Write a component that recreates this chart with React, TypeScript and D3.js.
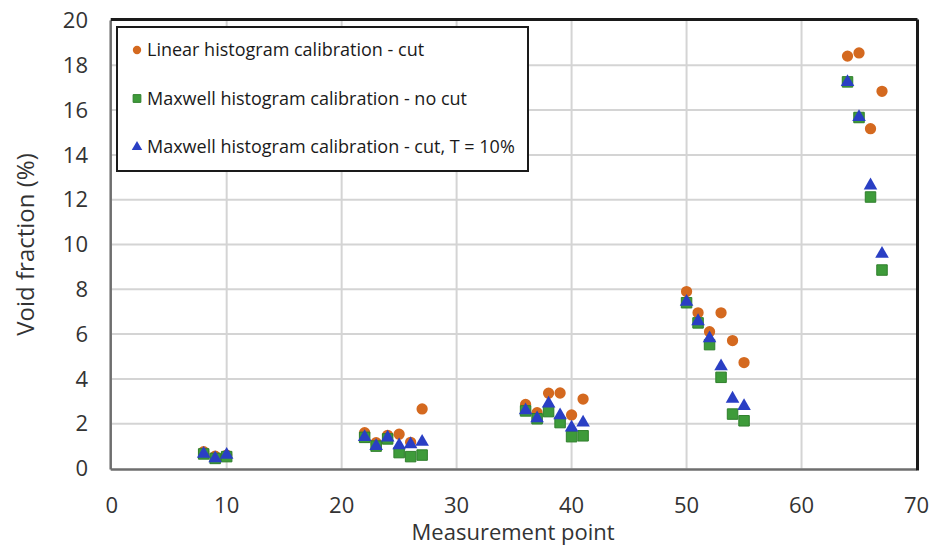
import React from "react";
import * as d3 from "d3";

// Measurement points and void fractions (%) per calibration method
const points = [8, 9, 10, 22, 23, 24, 25, 26, 27, 36, 37, 38, 39, 40, 41, 50, 51, 52, 53, 54, 55, 64, 65, 66, 67];
const linearCut = [0.75, 0.55, 0.6, 1.6, 1.15, 1.48, 1.53, 1.17, 2.66, 2.86, 2.49, 3.36, 3.37, 2.39, 3.1, 7.9, 6.95, 6.11, 6.95, 5.71, 4.73, 18.41, 18.55, 15.17, 16.84];
const maxwellNoCut = [0.65, 0.45, 0.53, 1.39, 1.0, 1.32, 0.71, 0.53, 0.6, 2.57, 2.22, 2.54, 2.05, 1.42, 1.46, 7.4, 6.5, 5.53, 4.07, 2.43, 2.13, 17.26, 15.67, 12.12, 8.86];
const maxwellCut10 = [0.7, 0.5, 0.65, 1.45, 1.05, 1.42, 1.08, 1.12, 1.23, 2.64, 2.28, 2.94, 2.42, 1.87, 2.09, 7.48, 6.62, 5.86, 4.61, 3.16, 2.83, 17.3, 15.73, 12.68, 9.63];

const xTicks = [0, 10, 20, 30, 40, 50, 60, 70];
const yTicks = [0, 2, 4, 6, 8, 10, 12, 14, 16, 18, 20];

const seriesNames = [
  "Linear histogram calibration - cut",
  "Maxwell histogram calibration - no cut",
  "Maxwell histogram calibration - cut, T = 10%",
];

const W = 930;
const H = 547;
const left = 111.7;
const right = 916.5;
const top = 20.5;
const bottom = 468.5;

const ORANGE = "#d4691f";
const GREEN = "#3e9b3a";
const GREEN_EDGE = "#2f7f2c";
const BLUE = "#2a3fc4";
const FONT = "'Open Sans', 'Noto Sans', sans-serif";

export default function App() {
  const x = d3.scaleLinear().domain([0, 70]).range([left, right]);
  const y = d3.scaleLinear().domain([0, 20]).range([bottom, top]);

  const circle = d3.symbol().type(d3.symbolCircle).size(100)()!;
  const square = d3.symbol().type(d3.symbolSquare).size(110)()!;
  const triangle = d3.symbol().type(d3.symbolTriangle).size(80)()!;

  const circleL = d3.symbol().type(d3.symbolCircle).size(55)()!;
  const squareL = d3.symbol().type(d3.symbolSquare).size(60)()!;
  const triangleL = d3.symbol().type(d3.symbolTriangle).size(48)()!;

  const legendRows = [
    { name: seriesNames[0], path: circleL, fill: ORANGE, stroke: "none" },
    { name: seriesNames[1], path: squareL, fill: GREEN, stroke: GREEN_EDGE },
    { name: seriesNames[2], path: triangleL, fill: BLUE, stroke: "none" },
  ];

  return (
    <svg width={W} height={H} style={{ position: "absolute", left: 0, top: 0, background: "#fff" }}>
      <rect width={W} height={H} fill="#fff" />
      {/* gridlines */}
      {yTicks.slice(1, -1).map((t) => (
        <line key={"gy" + t} x1={left} x2={right} y1={y(t)} y2={y(t)} stroke="#d4d4d4" strokeWidth={2} />
      ))}
      {xTicks.slice(1, -1).map((t) => (
        <line key={"gx" + t} x1={x(t)} x2={x(t)} y1={top} y2={bottom} stroke="#d4d4d4" strokeWidth={2} />
      ))}

      {/* plot frame */}
      <line x1={left - 1} x2={left - 1} y1={top} y2={bottom + 1} stroke="#6e6e6e" strokeWidth={2.5} />
      <line x1={left - 1} x2={right} y1={bottom + 1} y2={bottom + 1} stroke="#6e6e6e" strokeWidth={2.5} />
      <line x1={left - 1} x2={right + 1} y1={top - 1} y2={top - 1} stroke="#1a1a1a" strokeWidth={3} />
      <line x1={right + 1} x2={right + 1} y1={top - 1} y2={bottom + 2} stroke="#1a1a1a" strokeWidth={3} />

      {/* series markers */}
      {points.map((p, i) => (
        <path key={"c" + i} d={circle} transform={`translate(${x(p)},${y(linearCut[i])})`} fill={ORANGE} />
      ))}
      {points.map((p, i) => (
        <path key={"s" + i} d={square} transform={`translate(${x(p)},${y(maxwellNoCut[i])})`} fill={GREEN} stroke={GREEN_EDGE} strokeWidth={1} />
      ))}
      {points.map((p, i) => (
        <path key={"t" + i} d={triangle} transform={`translate(${x(p)},${y(maxwellCut10[i]) + 1})`} fill={BLUE} />
      ))}

      {/* legend */}
      <rect x={117} y={27} width={411} height={144} fill="#fff" stroke="#1a1a1a" strokeWidth={2} />
      {legendRows.map((r, i) => (
        <g key={"lg" + i} transform={`translate(0,${50 + i * 48.5})`}>
          <path d={r.path} transform="translate(137,0)" fill={r.fill} stroke={r.stroke} />
          <text x={147} y={0} dy="0.35em" fontFamily={FONT} fontSize={18} fill="#1a1a1a">
            {r.name}
          </text>
        </g>
      ))}

      {/* axis tick labels */}
      {yTicks.map((t) => (
        <text key={"yl" + t} x={88} y={y(t)} dy="0.35em" textAnchor="end" fontFamily={FONT} fontSize={22} fill="#333">
          {t}
        </text>
      ))}
      {xTicks.map((t) => (
        <text key={"xl" + t} x={x(t)} y={505} dy="0.35em" textAnchor="middle" fontFamily={FONT} fontSize={22} fill="#333">
          {t}
        </text>
      ))}

      {/* axis titles */}
      <text x={(left + right) / 2 - 1} y={540} textAnchor="middle" fontFamily={FONT} fontSize={22} fill="#333">
        Measurement point
      </text>
      <text
        transform={`translate(26,${(top + bottom) / 2}) rotate(-90)`}
        dy="0.35em"
        textAnchor="middle"
        fontFamily={FONT}
        fontSize={24}
        fill="#333"
      >
        Void fraction (%)
      </text>
    </svg>
  );
}
